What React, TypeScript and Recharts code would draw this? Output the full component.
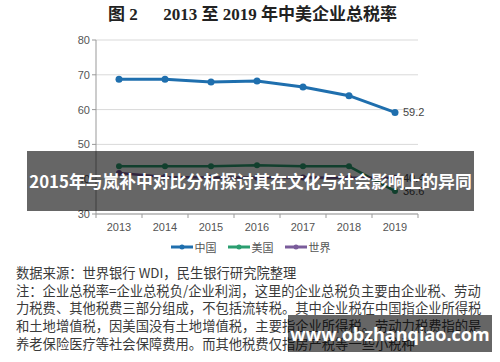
import React from "react";
import { LineChart, Line, XAxis, YAxis, CartesianGrid } from "recharts";

const YEARS = ["2013", "2014", "2015", "2016", "2017", "2018", "2019"];
const CHINA = [68.7, 68.7, 67.9, 68.2, 66.5, 64.0, 59.2];
const USA = [43.7, 43.7, 43.7, 44.0, 43.7, 43.7, 36.6];
const WORLD = [41.8, 40.6, 40.5, 40.5, 40.5, 40.4, 40.4];
const Y_TICKS = [30, 40, 50, 60, 70, 80];

const SERIES = [
  { key: "china", name: "中国", color: "#1f6fae", values: CHINA, width: 3, r: 3.5 },
  { key: "usa", name: "美国", color: "#2b9e70", values: USA, width: 2.5, r: 3 },
  { key: "world", name: "世界", color: "#7a5c9b", values: WORLD, width: 2.5, r: 3 },
];

const NOTES = [
  "数据来源：世界银行 WDI，民生银行研究院整理",
  "注：企业总税率=企业总税负/企业利润，这里的企业总税负主要由企业税、劳动",
  "力税费、其他税费三部分组成，不包括流转税。其中企业税在中国指企业所得税",
  "和土地增值税，因美国没有土地增值税，主要指企业所得税。劳动力税费指的是",
  "养老保险医疗等社会保障费用。而其他税费仅指房产税等一些小税种",
];

const BANNER = "2015年与岚补中对比分析探讨其在文化与社会影响上的异同";
const SITE = "www.obzhanqiao.com";

const rows = YEARS.map((year, i) => {
  const row: Record<string, string | number> = { year };
  SERIES.forEach((s) => (row[s.key] = s.values[i]));
  return row;
});

const AXIS_FONT = "'Liberation Sans', 'Noto Sans CJK SC', sans-serif";

// Excel-style x ticks: marks sit on category boundaries, labels in the middle
const XTick = (props: any) => {
  const { x, y, payload, index, visibleTicksCount } = props;
  const half = 23;
  return (
    <g>
      <line x1={x - half} y1={y - 8} x2={x - half} y2={y - 4} stroke="#999" />
      {index === visibleTicksCount - 1 && (
        <line x1={x + half} y1={y - 8} x2={x + half} y2={y - 4} stroke="#999" />
      )}
      <text x={x} y={y + 9} textAnchor="middle" fontSize={11} fill="#555" fontFamily={AXIS_FONT}>
        {payload.value}
      </text>
    </g>
  );
};

const lastLabel = (props: any) => {
  const { x, y, value, index } = props;
  if (index !== YEARS.length - 1) return null;
  return (
    <text x={x + 8} y={y + 4} fontSize={11} fill="#444" fontFamily={AXIS_FONT}>
      {value}
    </text>
  );
};

export default function App() {
  return (
    <div
      style={{
        position: "absolute",
        left: 0,
        top: 0,
        width: 500,
        height: 362,
        background: "#fff",
        overflow: "hidden",
      }}
    >
      <div
        style={{
          position: "absolute",
          left: 108,
          top: 4,
          whiteSpace: "pre",
          fontFamily: "'Liberation Serif', 'Noto Sans CJK SC', serif",
          fontWeight: 700,
          fontSize: 17,
          color: "#222",
          lineHeight: "22px",
        }}
      >
        {"图 2      2013 至 2019 年中美企业总税率"}
      </div>

      <div style={{ position: "absolute", left: 0, top: 0 }}>
        <LineChart width={500} height={260} data={rows} margin={{ top: 40, right: 82, left: 56, bottom: 16 }}>
          <CartesianGrid vertical={false} stroke="#d9d9d9" />
          <XAxis
            dataKey="year"
            scale="band"
            height={30}
            axisLine={{ stroke: "#999" }}
            tickLine={false}
            tick={<XTick />}
            interval={0}
          />
          <YAxis
            width={40}
            domain={[30, 80]}
            ticks={Y_TICKS}
            axisLine={{ stroke: "#999" }}
            tickLine={{ stroke: "#999" }}
            tickSize={4}
            tick={{ fontSize: 11, fill: "#555", fontFamily: AXIS_FONT }}
          />
          {SERIES.map((s) => (
            <Line
              key={s.key}
              dataKey={s.key}
              name={s.name}
              type="linear"
              stroke={s.color}
              strokeWidth={s.width}
              dot={{ r: s.r, fill: s.color, stroke: s.color, strokeWidth: 0 }}
              label={lastLabel}
              isAnimationActive={false}
            />
          ))}
        </LineChart>
      </div>

      <div
        style={{
          position: "absolute",
          left: 0,
          top: 239,
          width: 500,
          display: "flex",
          justifyContent: "center",
          gap: 10,
          fontFamily: AXIS_FONT,
          fontSize: 11,
          color: "#555",
        }}
      >
        {SERIES.map((s) => (
          <div key={s.key} style={{ display: "flex", alignItems: "center" }}>
            <svg width={24} height={14}>
              <line x1={1} y1={7} x2={23} y2={7} stroke={s.color} strokeWidth={3} />
              <circle cx={12} cy={7} r={2.5} fill={s.color} />
            </svg>
            <span style={{ marginLeft: 1 }}>{s.name}</span>
          </div>
        ))}
      </div>

      <div
        style={{
          position: "absolute",
          left: 16,
          top: 264,
          fontFamily: "'Noto Sans CJK SC', sans-serif",
          fontSize: 13.3,
          lineHeight: "17.7px",
          color: "#3a3a3a",
          whiteSpace: "pre",
        }}
      >
        {NOTES.map((n, i) => (
          <div key={i}>{n}</div>
        ))}
      </div>

      <div
        style={{
          position: "absolute",
          left: 27,
          top: 151,
          width: 447,
          height: 60,
          background: "rgba(0,0,0,0.6)",
          color: "#fff",
          fontFamily: "'Noto Sans CJK SC', sans-serif",
          fontWeight: 700,
          fontSize: 16.8,
          display: "flex",
          alignItems: "center",
          justifyContent: "center",
          whiteSpace: "nowrap",
        }}
      >
        {BANNER}
      </div>

      <div
        style={{
          position: "absolute",
          left: 288,
          top: 315,
          width: 204,
          height: 37,
          background: "rgba(0,0,0,0.6)",
          color: "#fff",
          fontFamily: "'Open Sans', 'Noto Sans', sans-serif",
          fontWeight: 700,
          fontSize: 18,
          display: "flex",
          alignItems: "center",
          justifyContent: "center",
          whiteSpace: "nowrap",
        }}
      >
        {SITE}
      </div>
    </div>
  );
}
